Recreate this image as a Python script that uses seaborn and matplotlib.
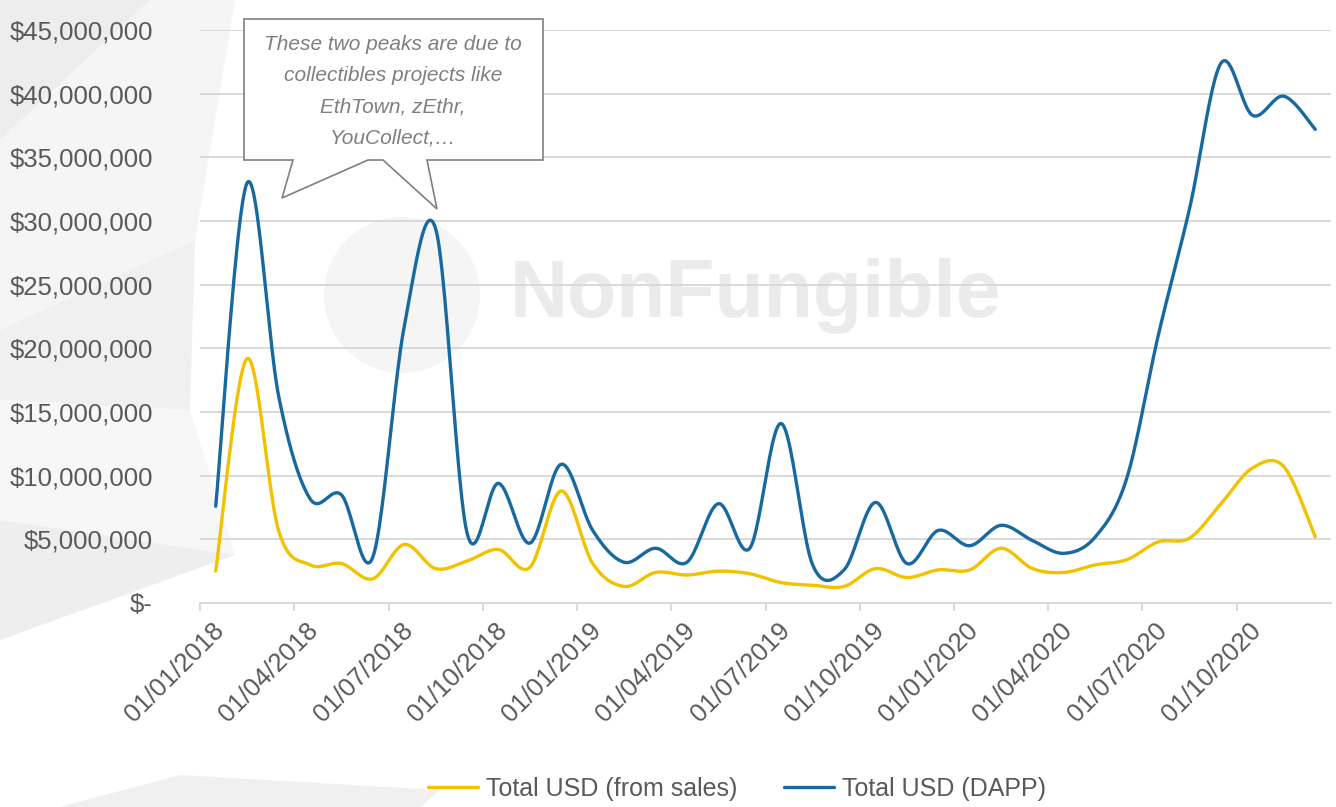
import numpy as np
import matplotlib
matplotlib.use("Agg")
import matplotlib.pyplot as plt
import matplotlib.transforms as mtransforms
from matplotlib.patches import Polygon, Circle
from matplotlib.lines import Line2D
from matplotlib.ticker import FuncFormatter
import seaborn as sns

# monthly totals Jan 2018 .. Dec 2020, in millions of USD
sales_usd = [2.5, 19.2, 5.7, 3.0, 3.1, 1.9, 4.6, 2.7, 3.3, 4.2, 2.8, 8.8,
             3.1, 1.3, 2.4, 2.2, 2.5, 2.3, 1.6, 1.4, 1.3, 2.7, 2.0, 2.6,
             2.6, 4.3, 2.7, 2.4, 3.0, 3.4, 4.8, 5.1, 7.8, 10.6, 10.7, 5.2]
dapp_usd = [7.6, 33.0, 16.3, 8.2, 8.5, 3.6, 21.7, 29.4, 5.5, 9.4, 4.7, 10.9,
            5.7, 3.2, 4.3, 3.2, 7.8, 4.3, 14.1, 3.0, 2.6, 7.9, 3.1, 5.7,
            4.5, 6.1, 4.9, 3.9, 5.2, 9.8, 21.0, 31.0, 42.4, 38.3, 39.8, 37.2]
tick_labels = ["01/01/2018", "01/04/2018", "01/07/2018", "01/10/2018",
               "01/01/2019", "01/04/2019", "01/07/2019", "01/10/2019",
               "01/01/2020", "01/04/2020", "01/07/2020", "01/10/2020"]
series_names = ["Total USD (from sales)", "Total USD (DAPP)"]
note = "These two peaks are due to\ncollectibles projects like\nEthTown, zEthr,\nYouCollect,\u2026"

YELLOW = "#F2C200"
BLUE = "#1769A0"
GREY_TXT = "#595959"
GRID = "#d9d9d9"


def smooth(x, y, n=24):
    # Excel-like smoothed line: cubic bezier through every point
    x = np.asarray(x, float)
    y = np.asarray(y, float)
    px = np.concatenate([[x[0]], x, [x[-1]]])
    py = np.concatenate([[y[0]], y, [y[-1]]])
    t = np.linspace(0, 1, n, endpoint=False)[:, None]
    xs, ys = [], []
    for i in range(len(x) - 1):
        p0 = np.array([px[i], py[i]])
        p1 = np.array([px[i + 1], py[i + 1]])
        p2 = np.array([px[i + 2], py[i + 2]])
        p3 = np.array([px[i + 3], py[i + 3]])
        c1 = p1 + (p2 - p0) / 6
        c2 = p2 - (p3 - p1) / 6
        b = ((1 - t) ** 3) * p1 + 3 * ((1 - t) ** 2) * t * c1 + 3 * (1 - t) * t ** 2 * c2 + t ** 3 * p2
        xs.append(b[:, 0])
        ys.append(b[:, 1])
    xs.append([x[-1]])
    ys.append([y[-1]])
    return np.concatenate(xs), np.concatenate(ys)


sns.set_theme(style="white")
plt.rcParams['font.family'] = ['Liberation Sans', 'DejaVu Sans']

W, H = 1336, 807
fig = plt.figure(figsize=(W / 100, H / 100), dpi=100)
px = mtransforms.Affine2D().scale(1 / W, -1 / H).translate(0, 1) + fig.transFigure

# faint low-poly background
bg = [
    ([(0, 0), (150, 0), (0, 140)], "#ededed"),
    ([(150, 0), (235, 0), (195, 240), (0, 330), (0, 140)], "#f5f5f5"),
    ([(0, 330), (195, 240), (190, 410), (0, 400)], "#f0f0f0"),
    ([(0, 400), (190, 410), (235, 555), (0, 520)], "#f7f7f7"),
    ([(0, 520), (235, 555), (0, 640)], "#eeeeee"),
    ([(60, 807), (180, 775), (440, 790), (420, 807)], "#f0f0f0"),
]
for pts, c in bg:
    fig.add_artist(Polygon(pts, closed=True, transform=px, facecolor=c,
                           edgecolor="none", zorder=-2))
fig.add_artist(Circle((402, 295), 78, transform=px, facecolor="#f5f5f5",
                      edgecolor="none", zorder=-1))
fig.text(755, 296, "NonFungible", transform=px, fontsize=58, fontweight="bold",
         color="#ebebeb", ha="center", va="center", zorder=-1)

ax = fig.add_axes([200 / W, 1 - 603 / H, 1131 / W, 573 / H])
ax.set_facecolor("none")

xpos = np.arange(len(dapp_usd)) + 0.5
for vals, col in [(sales_usd, YELLOW), (dapp_usd, BLUE)]:
    sx, sy = smooth(xpos, np.array(vals) * 1e6)
    sns.lineplot(x=sx, y=sy, ax=ax, color=col, linewidth=2.4, sort=False,
                 estimator=None, legend=False)

ax.set_xlim(0, 36)
ax.set_ylim(0, 45e6)
ax.set_yticks(np.arange(0, 45e6 + 1, 5e6))
ax.yaxis.set_major_formatter(FuncFormatter(lambda v, p: "$-" if v == 0 else f"${v:,.0f}"))
ax.yaxis.grid(True, color=GRID, linewidth=1.4)
ax.set_axisbelow(True)
for s in ["left", "right", "top"]:
    ax.spines[s].set_visible(False)
ax.spines["bottom"].set_color(GRID)
ax.spines["bottom"].set_linewidth(1.4)

ax.set_xticks(np.arange(0, 36, 3))
ax.set_xticklabels(tick_labels, rotation=45, ha="right", va="top", rotation_mode="anchor")
ax.tick_params(axis="x", bottom=True, length=6, width=1.4, color=GRID, pad=5,
               labelsize=18.5, labelcolor=GREY_TXT)
ax.tick_params(axis="y", left=False, length=0, pad=34, labelsize=18.5, labelcolor=GREY_TXT)
for lab in ax.get_xticklabels():
    lab.set_transform(lab.get_transform() + mtransforms.ScaledTranslation(0.12, 0, fig.dpi_scale_trans))

# callout
callout = [(244, 19), (543, 19), (543, 160), (427, 160), (437, 209), (383, 160),
           (368, 160), (282, 198), (293, 160), (244, 160)]
fig.add_artist(Polygon(callout, closed=True, transform=px, facecolor="white",
                       edgecolor="#7f7f7f", linewidth=1.2, zorder=5))
fig.text(393, 91, note, transform=px, fontsize=15, style="italic", color="#7f7f7f",
         ha="center", va="center", linespacing=1.82, zorder=6)

handles = [Line2D([], [], color=YELLOW, lw=2.4), Line2D([], [], color=BLUE, lw=2.4)]
leg = fig.legend(handles, series_names, loc="center", bbox_to_anchor=(737 / W, 1 - 789 / H),
                 ncol=2, frameon=False, fontsize=18, handlelength=2.0,
                 handletextpad=0.3, columnspacing=1.9)
for t in leg.get_texts():
    t.set_color(GREY_TXT)

fig.savefig("out.png", dpi=100)
